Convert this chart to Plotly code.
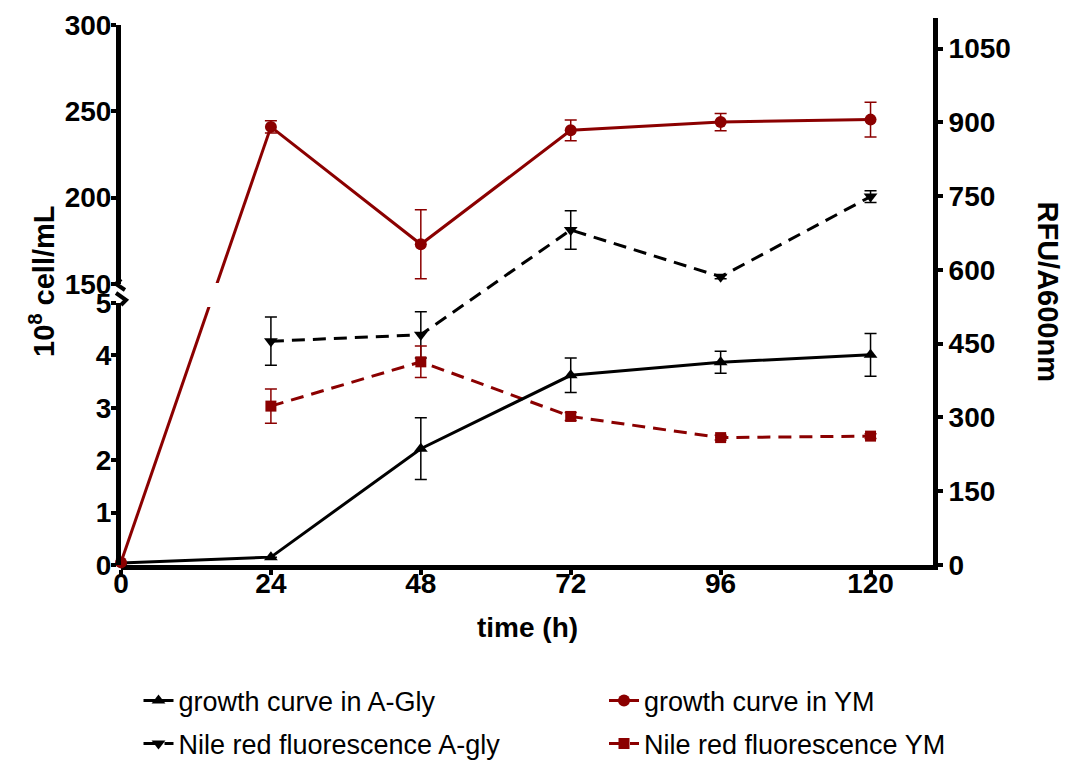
import plotly.graph_objects as go

# ---------------- data ----------------
time_h = [0, 24, 48, 72, 96, 120]
growth_agly = [0.04, 0.15, 2.22, 3.62, 3.87, 4.01]
growth_agly_err = [0, 0, 0.59, 0.33, 0.21, 0.41]
growth_ym = [0.05, 241, 173, 239, 243.8, 245.2]
growth_ym_err = [0, 3.5, 20, 6, 5, 10]
nile_time = [24, 48, 72, 96, 120]
nile_agly = [455, 468, 681, 586, 749]
nile_agly_err = [49, 47, 39, 4, 12]
nile_ym = [323, 413, 302, 259, 262]
nile_ym_err = [35, 32, 8, 5, 5]
x_ticks = [0, 24, 48, 72, 96, 120]
low_ticks = [0, 1, 2, 3, 4, 5]
high_ticks = [150, 200, 250, 300]
right_ticks = [0, 150, 300, 450, 600, 750, 900, 1050]

RED = "#8B0000"
BLK = "#000000"
FONT = "Arial, Liberation Sans, sans-serif"

# broken left axis: two segments
LOW_RANGE = [0, 5]
HIGH_RANGE = [150, 300]
LOW_DOM = [0.0, 0.479]
HIGH_DOM = [0.5137, 0.9872]


def broken(v):
    """map a value onto the full-height hidden axis (fraction of plot)"""
    if v <= LOW_RANGE[1]:
        return LOW_DOM[0] + (v - LOW_RANGE[0]) / (LOW_RANGE[1] - LOW_RANGE[0]) * (LOW_DOM[1] - LOW_DOM[0])
    return HIGH_DOM[0] + (v - HIGH_RANGE[0]) / (HIGH_RANGE[1] - HIGH_RANGE[0]) * (HIGH_DOM[1] - HIGH_DOM[0])


fig = go.Figure()

ebar = dict(type="data", thickness=1.5, width=6)

# growth curve in A-Gly (low segment)
fig.add_trace(go.Scatter(
    x=time_h, y=growth_agly, yaxis="y3", mode="lines+markers",
    name="growth curve in A-Gly", legend="legend",
    line=dict(color=BLK, width=3),
    marker=dict(symbol="triangle-up", size=12, color=BLK),
    error_y=dict(array=growth_agly_err, color=BLK, **ebar),
    cliponaxis=False,
))

# growth curve in YM: bridge across the break on hidden full-height axis
fig.add_trace(go.Scatter(
    x=time_h[:2], y=[broken(v) for v in growth_ym[:2]], yaxis="y",
    mode="lines", line=dict(color=RED, width=3), showlegend=False,
    hoverinfo="skip", cliponaxis=False,
))
# first point (low segment)
fig.add_trace(go.Scatter(
    x=time_h[:1], y=growth_ym[:1], yaxis="y3", mode="markers",
    marker=dict(symbol="circle", size=12, color=RED), showlegend=False,
    cliponaxis=False,
))
# rest (high segment)
fig.add_trace(go.Scatter(
    x=time_h[1:], y=growth_ym[1:], yaxis="y4", mode="lines+markers",
    name="growth curve in YM", legend="legend2",
    line=dict(color=RED, width=3),
    marker=dict(symbol="circle", size=12, color=RED),
    error_y=dict(array=growth_ym_err[1:], color=RED, **ebar),
    cliponaxis=False,
))

# Nile red fluorescence A-gly (right axis)
fig.add_trace(go.Scatter(
    x=nile_time, y=nile_agly, yaxis="y2", mode="lines+markers",
    name="Nile red fluorescence A-gly", legend="legend3",
    line=dict(color=BLK, width=3, dash="13px,8px"),
    marker=dict(symbol="triangle-down", size=12, color=BLK),
    error_y=dict(array=nile_agly_err, color=BLK, **ebar),
    cliponaxis=False,
))
# Nile red fluorescence YM (right axis)
fig.add_trace(go.Scatter(
    x=nile_time, y=nile_ym, yaxis="y2", mode="lines+markers",
    name="Nile red fluorescence YM", legend="legend4",
    line=dict(color=RED, width=3, dash="13px,8px"),
    marker=dict(symbol="square", size=11, color=RED),
    error_y=dict(array=nile_ym_err, color=RED, **ebar),
    cliponaxis=False,
))

tickfont = dict(family=FONT, size=28, color="black", weight="bold")
axis_common = dict(showgrid=False, zeroline=False, showline=True, linecolor="black",
                   linewidth=5, ticks="outside", ticklen=5, tickwidth=4,
                   tickcolor="black", tickfont=tickfont)

px = lambda p: (565 - p) / 547  # helper for decorative shapes only
dx = 1 / 812

shapes = [
    # gap in the red line where it crosses the axis break
    dict(type="rect", xref="x", yref="paper", x0=11, x1=19, y0=px(307), y1=px(283),
         fillcolor="white", line=dict(width=0), layer="above"),
    # break marks on the left axis
    dict(type="path", xref="paper", yref="paper",
         path=f"M 0 {px(279)} L {-5*dx} {px(284)} L {4*dx} {px(290)}",
         line=dict(color="black", width=4), layer="above"),
    dict(type="path", xref="paper", yref="paper",
         path=f"M {-5*dx} {px(293)} L {5*dx} {px(300)} L 0 {px(305)}",
         line=dict(color="black", width=4), layer="above"),
]


def legend_at(xpix, ypix):
    return dict(orientation="h", xref="container", yref="container",
                x=xpix / 1068, y=1 - ypix / 761, xanchor="left", yanchor="middle",
                itemwidth=30, font=dict(family=FONT, size=27, color="black"),
                bgcolor="rgba(0,0,0,0)")


fig.update_layout(
    width=1068, height=761,
    margin=dict(l=121, r=135, t=18, b=196, autoexpand=False),
    paper_bgcolor="white", plot_bgcolor="rgba(0,0,0,0)",
    font=dict(family=FONT, color="black"),
    xaxis=dict(range=[0, 130], tickvals=x_ticks, anchor="y",
               ticklabelstandoff=-16, **axis_common),
    yaxis=dict(range=[0, 1], domain=[0, 1], visible=False),
    yaxis2=dict(range=[0, 1112], overlaying="y", side="right", anchor="x",
                tickvals=right_ticks, **axis_common),
    yaxis3=dict(range=LOW_RANGE, domain=LOW_DOM, anchor="x", side="left",
                tickvals=low_ticks, ticklabelstandoff=-6, **axis_common),
    yaxis4=dict(range=HIGH_RANGE, domain=HIGH_DOM, anchor="x", side="left",
                tickvals=high_ticks, ticklabelstandoff=-6, **axis_common),
    legend=legend_at(138.5, 701),
    legend2=legend_at(604, 701),
    legend3=legend_at(138.5, 744),
    legend4=legend_at(604, 744),
    shapes=shapes,
    annotations=[
        dict(text="10<sup>8</sup> cell/mL", xref="paper", yref="paper",
             x=(42 - 121) / 812, y=(565 - 281) / 547, textangle=-90, showarrow=False,
             xanchor="center", yanchor="middle",
             font=dict(family=FONT, size=29, color="black", weight="bold")),
        dict(text="RFU/A600nm", xref="paper", yref="paper",
             x=(1048 - 121) / 812, y=0.5, textangle=90, showarrow=False,
             xanchor="center", yanchor="middle",
             font=dict(family=FONT, size=29, color="black", weight="bold")),
        dict(text="time (h)", xref="paper", yref="paper",
             x=0.5, y=(565 - 628) / 547, showarrow=False,
             xanchor="center", yanchor="middle",
             font=dict(family=FONT, size=28, color="black", weight="bold")),
    ],
)

fig.write_html("out.html")
